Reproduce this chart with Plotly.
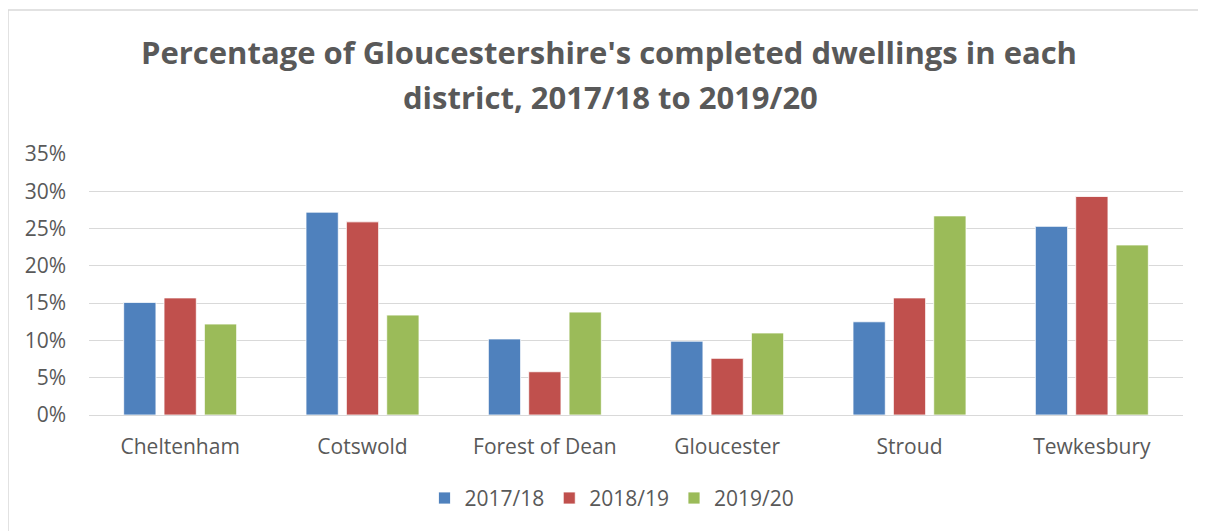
import plotly.graph_objects as go

districts = ["Cheltenham", "Cotswold", "Forest of Dean", "Gloucester", "Stroud", "Tewkesbury"]
y2017_18 = [0.151, 0.272, 0.102, 0.099, 0.125, 0.253]
y2018_19 = [0.157, 0.259, 0.058, 0.076, 0.157, 0.293]
y2019_20 = [0.122, 0.134, 0.138, 0.110, 0.267, 0.228]
series_names = ["2017/18", "2018/19", "2019/20"]
colors = ["#4F81BD", "#C0504D", "#9BBB59"]
tick_vals = [0, 0.05, 0.10, 0.15, 0.20, 0.25, 0.30, 0.35]
tick_text = ["0%", "5%", "10%", "15%", "20%", "25%", "30%", "35%"]

# page has an 8px body margin; work in page pixels and convert
OX, OY = 8, 8
W, H = 1206 - OX, 531 - OY
L, R, T, B = 89 - OX, 1183 - OX, 154 - OY, 417 - OY
TXT = "#595959"
FONT = "Open Sans"

fig = go.Figure()
for name, vals, col in zip(series_names, [y2017_18, y2018_19, y2019_20], colors):
    fig.add_trace(go.Bar(x=districts, y=vals, name=name,
                         marker=dict(color=col, line=dict(color="white", width=0.8))))

def px(x):
    return (x - OX - L) / (R - L)

def py(y):
    return (B - (y - OY)) / (B - T)

fig.update_layout(
    width=W, height=H,
    margin=dict(l=L, r=W - R, t=T, b=H - B, pad=0),
    paper_bgcolor="white", plot_bgcolor="white",
    barmode="group", bargap=0.336, bargroupgap=0.2,
    font=dict(family=FONT, color=TXT, size=21),
    title=dict(text="Percentage of Gloucestershire's completed dwellings in each",
               x=px(609), xref="paper", xanchor="center",
               y=1 - (53 - OY) / H, yref="container", yanchor="middle",
               font=dict(family=FONT, size=31, color=TXT, weight="bold")),
    annotations=[dict(text="district, 2017/18 to 2019/20", x=px(610), y=py(97),
                      xref="paper", yref="paper", xanchor="center", yanchor="middle",
                      showarrow=False,
                      font=dict(family=FONT, size=31, color=TXT, weight="bold"))],
    xaxis=dict(showgrid=False, showline=True, linecolor="#D9D9D9", linewidth=1.3,
               ticks="", ticklabelstandoff=13, tickfont=dict(size=21, color=TXT)),
    yaxis=dict(range=[0, 0.35], tickvals=tick_vals, ticktext=tick_text,
               showgrid=True, gridcolor="#D9D9D9", gridwidth=1.3,
               zeroline=False, showline=False, ticks="", ticklabelstandoff=22,
               tickfont=dict(size=21, color=TXT)),
    legend=dict(orientation="h", x=px(612), xanchor="center", y=py(501), yanchor="middle",
                font=dict(size=21, color=TXT), itemwidth=30, tracegroupgap=0),
    showlegend=True,
    shapes=[
        dict(type="line", xref="paper", yref="paper", x0=px(8), x1=px(1300), y0=py(9), y1=py(9),
             line=dict(color="#D9D9D9", width=1.5)),
        dict(type="line", xref="paper", yref="paper", x0=px(8), x1=px(8), y0=py(9), y1=py(600),
             line=dict(color="#D9D9D9", width=1.5)),
    ],
)

fig.write_html("out.html")
